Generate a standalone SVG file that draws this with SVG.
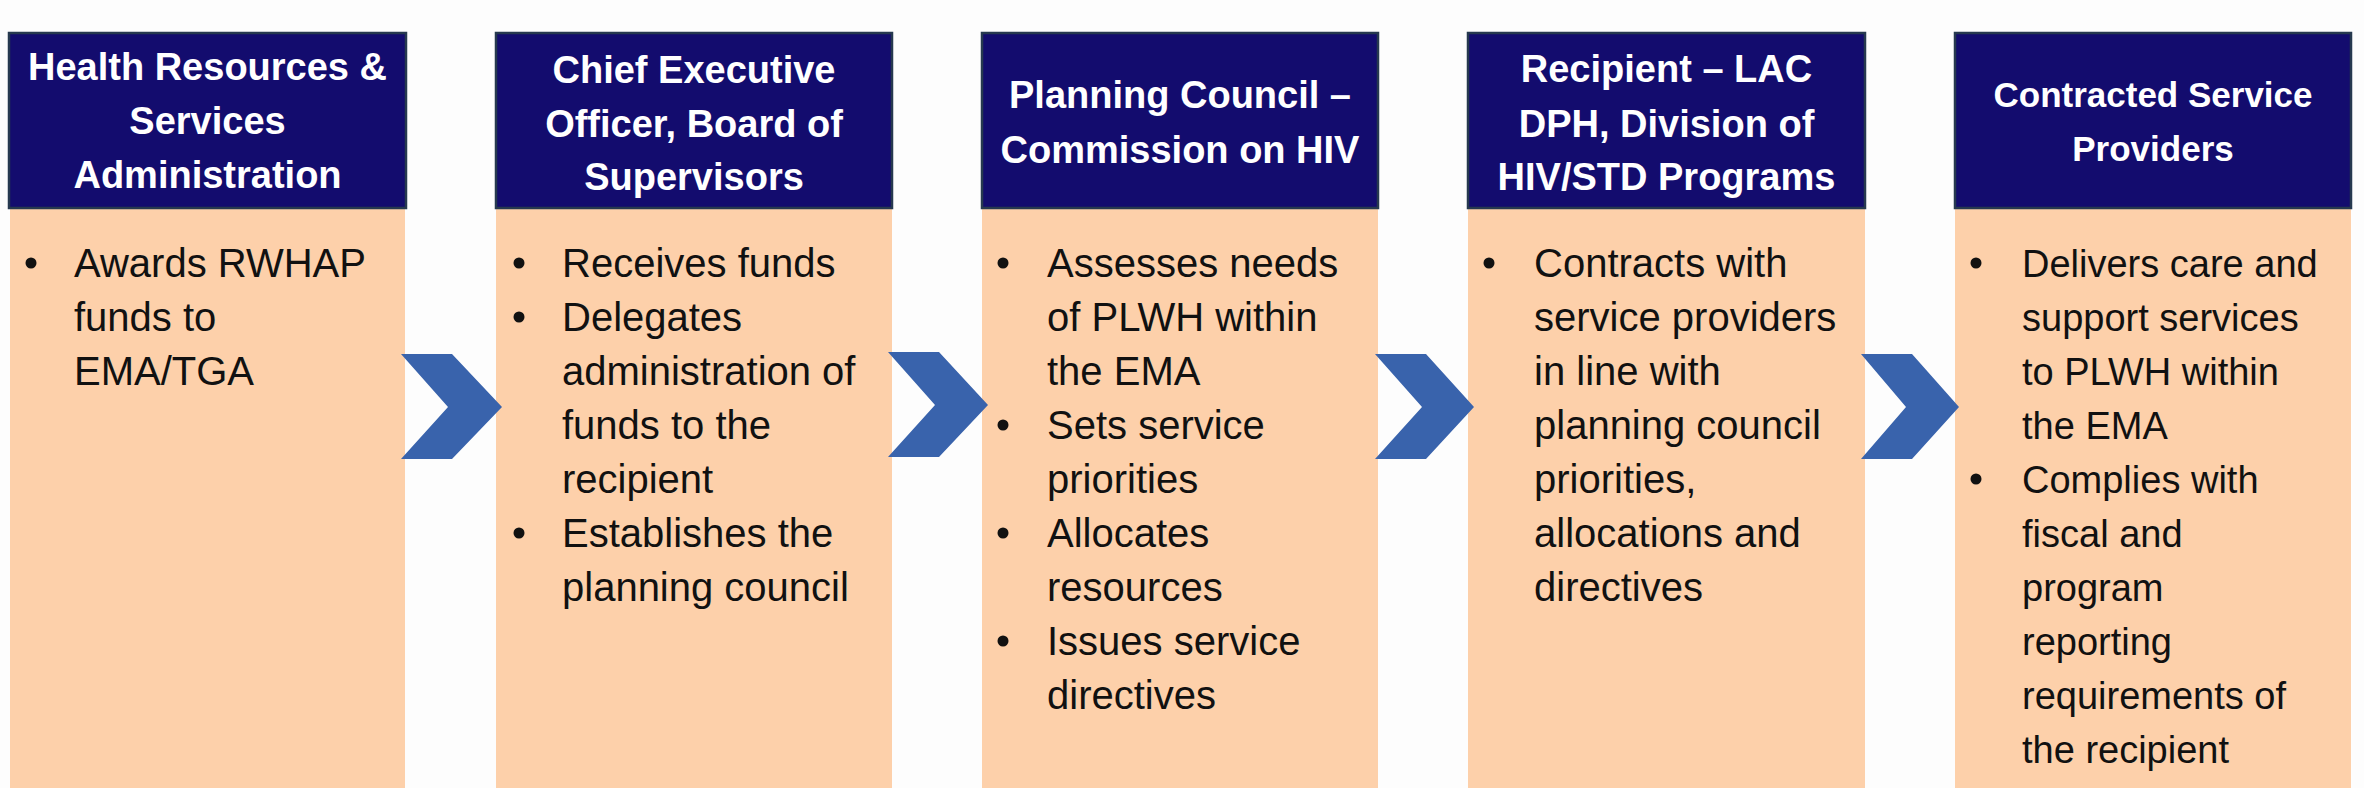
<svg xmlns="http://www.w3.org/2000/svg" width="2364" height="788" viewBox="0 0 2364 788">
<style>
.hdr{fill:#130c6e;stroke:#26394f;stroke-width:2.5}
.body{fill:#fdd0aa}
.ht{font-family:"Liberation Sans",Arial,sans-serif;font-weight:bold;font-size:38px;fill:#ffffff;text-anchor:middle}
.bt{font-family:"Liberation Sans",Arial,sans-serif;font-size:40px;fill:#111111}
.dot{fill:#111111}
.arr{fill:#3963ac}
</style>
<rect width="2364" height="788" fill="#fdfdfd"/>
<g id="node1">
<rect class="body" x="10" y="208" width="395" height="580"/>
<rect class="hdr" x="9" y="33" width="397" height="175"/>
<text class="ht"><tspan x="207.5" y="80">Health Resources &amp;</tspan><tspan x="207.5" y="134">Services</tspan><tspan x="207.5" y="188">Administration</tspan></text>
<circle class="dot" cx="31" cy="263" r="5.5"/>
<text class="bt"><tspan x="74" y="277">Awards RWHAP</tspan><tspan x="74" y="331">funds to</tspan><tspan x="74" y="385">EMA/TGA</tspan></text>
</g>
<g id="node2">
<rect class="body" x="496" y="208" width="396" height="580"/>
<rect class="hdr" x="496" y="33" width="396" height="175"/>
<text class="ht"><tspan x="694" y="83">Chief Executive</tspan><tspan x="694" y="137">Officer, Board of</tspan><tspan x="694" y="190">Supervisors</tspan></text>
<circle class="dot" cx="519" cy="263" r="5.5"/>
<circle class="dot" cx="519" cy="317" r="5.5"/>
<circle class="dot" cx="519" cy="533" r="5.5"/>
<text class="bt"><tspan x="562" y="277">Receives funds</tspan><tspan x="562" y="331">Delegates</tspan><tspan x="562" y="385">administration of</tspan><tspan x="562" y="439">funds to the</tspan><tspan x="562" y="493">recipient</tspan><tspan x="562" y="547">Establishes the</tspan><tspan x="562" y="601">planning council</tspan></text>
</g>
<g id="node3">
<rect class="body" x="982" y="208" width="396" height="580"/>
<rect class="hdr" x="982" y="33" width="396" height="175"/>
<text class="ht"><tspan x="1180" y="108">Planning Council –</tspan><tspan x="1180" y="163">Commission on HIV</tspan></text>
<circle class="dot" cx="1003" cy="263" r="5.5"/>
<circle class="dot" cx="1003" cy="425" r="5.5"/>
<circle class="dot" cx="1003" cy="533" r="5.5"/>
<circle class="dot" cx="1003" cy="641" r="5.5"/>
<text class="bt"><tspan x="1047" y="277">Assesses needs</tspan><tspan x="1047" y="331">of PLWH within</tspan><tspan x="1047" y="385">the EMA</tspan><tspan x="1047" y="439">Sets service</tspan><tspan x="1047" y="493">priorities</tspan><tspan x="1047" y="547">Allocates</tspan><tspan x="1047" y="601">resources</tspan><tspan x="1047" y="655">Issues service</tspan><tspan x="1047" y="709">directives</tspan></text>
</g>
<g id="node4">
<rect class="body" x="1468" y="208" width="397" height="580"/>
<rect class="hdr" x="1468" y="33" width="397" height="175"/>
<text class="ht"><tspan x="1666.5" y="82">Recipient – LAC</tspan><tspan x="1666.5" y="137">DPH, Division of</tspan><tspan x="1666.5" y="190">HIV/STD Programs</tspan></text>
<circle class="dot" cx="1489" cy="263" r="5.5"/>
<text class="bt"><tspan x="1534" y="277">Contracts with</tspan><tspan x="1534" y="331">service providers</tspan><tspan x="1534" y="385">in line with</tspan><tspan x="1534" y="439">planning council</tspan><tspan x="1534" y="493">priorities,</tspan><tspan x="1534" y="547">allocations and</tspan><tspan x="1534" y="601">directives</tspan></text>
</g>
<g id="node5">
<rect class="body" x="1955" y="208" width="396" height="580"/>
<rect class="hdr" x="1955" y="33" width="396" height="175"/>
<text class="ht" style="font-size:35px"><tspan x="2153" y="107">Contracted Service</tspan><tspan x="2153" y="161">Providers</tspan></text>
<circle class="dot" cx="1976" cy="263" r="5.5"/>
<circle class="dot" cx="1976" cy="479" r="5.5"/>
<text class="bt" style="font-size:38px"><tspan x="2022" y="277">Delivers care and</tspan><tspan x="2022" y="331">support services</tspan><tspan x="2022" y="385">to PLWH within</tspan><tspan x="2022" y="439">the EMA</tspan><tspan x="2022" y="493">Complies with</tspan><tspan x="2022" y="547">fiscal and</tspan><tspan x="2022" y="601">program</tspan><tspan x="2022" y="655">reporting</tspan><tspan x="2022" y="709">requirements of</tspan><tspan x="2022" y="763">the recipient</tspan></text>
</g>
<g id="connectors">
<polygon class="arr" points="401,354 452,354 502,407 452,459 401,459 448,407"/>
<polygon class="arr" points="888,352 939,352 988,405 939,457 888,457 935,405"/>
<polygon class="arr" points="1375,354 1426,354 1474,407 1426,459 1375,459 1422,407"/>
<polygon class="arr" points="1861,354 1912,354 1959,407 1912,459 1861,459 1906,407"/>
</g>
</svg>
